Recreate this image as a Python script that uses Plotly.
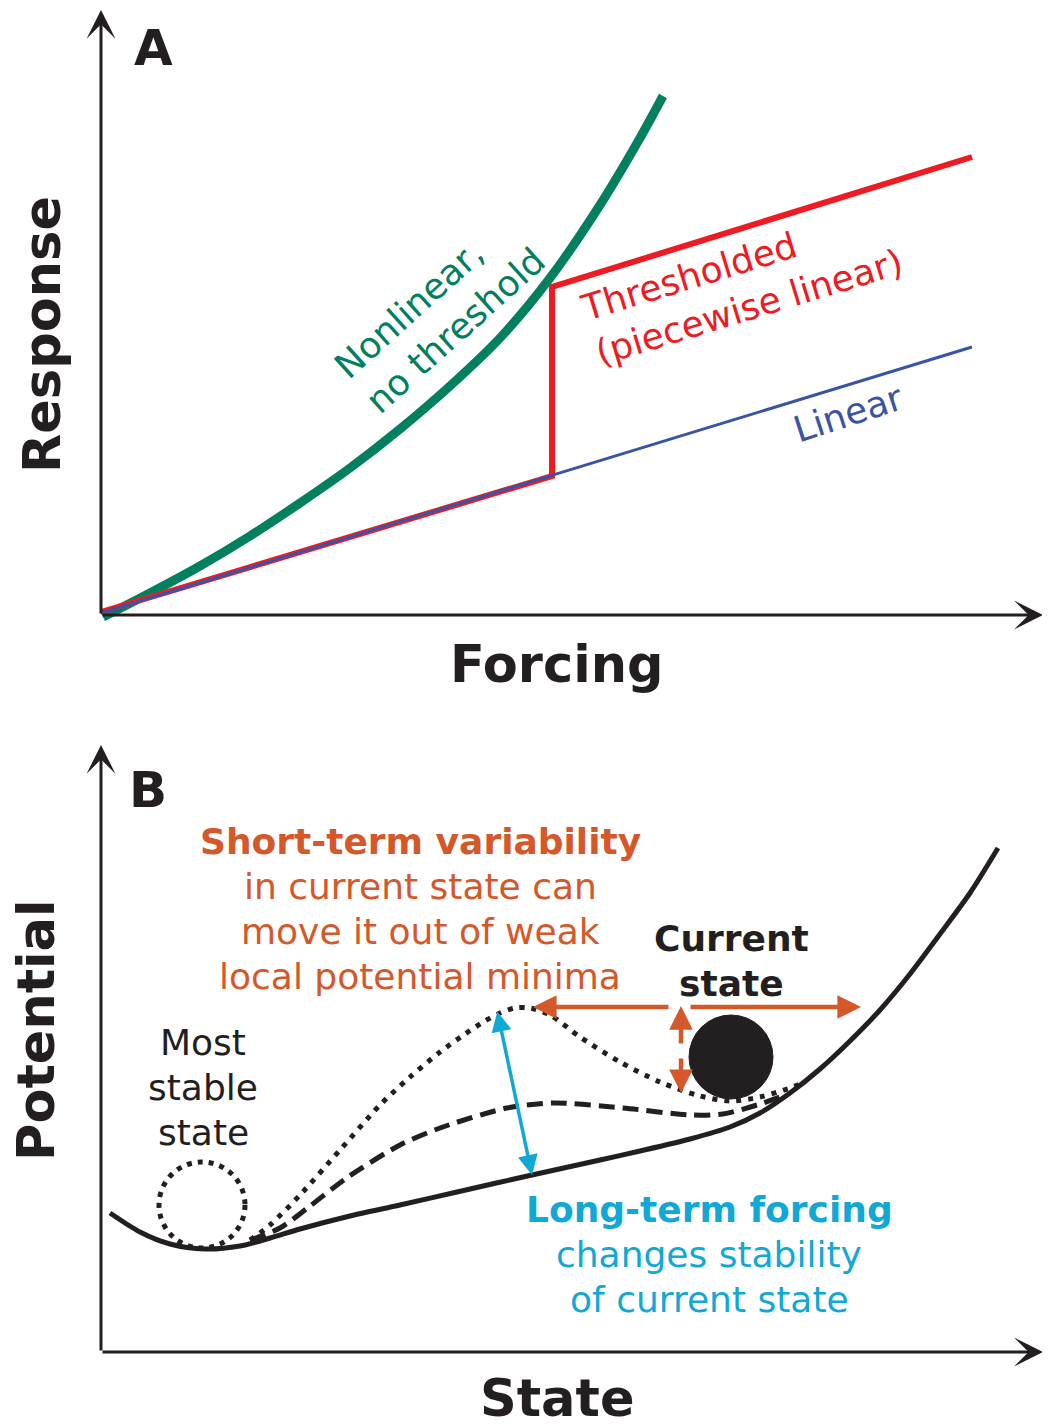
import plotly.graph_objects as go

# ---------------- Panel A data (forcing / response units) ----------------
nonlinear_x = [0.02, 0.49, 0.99, 1.49, 1.99, 2.49, 2.99, 3.49, 3.99, 4.49, 4.99, 5.39, 5.62]
nonlinear_y = [-0.02, 0.22, 0.49, 0.79, 1.12, 1.47, 1.86, 2.29, 2.77, 3.37, 4.10, 4.77, 5.19]
linear_x = [0.0, 8.71]
linear_y = [0.02, 2.68]
threshold_x = [0.0, 4.51, 4.51, 8.71]
threshold_y = [0.03, 1.39, 3.28, 4.58]

# ---------------- Panel B data (state / potential units) ----------------
solid_x = [0.09, 0.39, 0.69, 1.04, 1.39, 1.69, 1.99, 2.49, 2.99, 3.56, 4.31, 4.99, 5.39,
           5.89, 6.29, 6.59, 6.89, 7.19, 7.49, 7.79, 8.09, 8.39, 8.69, 8.97]
solid_y = [1.39, 1.20, 1.08, 1.03, 1.06, 1.14, 1.23, 1.36, 1.47, 1.60, 1.77, 1.92, 2.01,
           2.13, 2.25, 2.39, 2.59, 2.83, 3.11, 3.42, 3.78, 4.18, 4.59, 5.04]
dashed_x = [1.49, 1.79, 2.09, 2.47, 2.99, 3.39, 4.06, 4.52, 5.22, 5.89, 6.22, 6.56, 6.84]
dashed_y = [1.12, 1.24, 1.46, 1.75, 2.07, 2.24, 2.44, 2.49, 2.44, 2.37, 2.38, 2.47, 2.57]
dotted_x = [1.49, 1.69, 1.99, 2.39, 2.79, 3.09, 3.39, 3.64, 3.84, 3.99, 4.14, 4.29, 4.49,
            4.79, 5.19, 5.59, 5.99, 6.29, 6.59, 6.89, 6.99]
dotted_y = [1.12, 1.27, 1.57, 2.02, 2.47, 2.75, 3.00, 3.18, 3.31, 3.39, 3.44, 3.44, 3.37,
            3.15, 2.90, 2.70, 2.56, 2.51, 2.55, 2.64, 2.68]

stable_state = [1.01, 1.47, 0.43]    # centre x, centre y, radius
current_state = [6.30, 2.95, 0.42]   # centre x, centre y, radius

# arrows: [x_tail, y_tail, x_head, y_head]
var_left = [5.69, 3.45, 4.32, 3.45]
var_right = [5.88, 3.45, 7.60, 3.45]
var_up = [5.80, 3.07, 5.80, 3.46]
var_down = [5.80, 2.95, 5.80, 2.59]
forcing_arrow = [3.96, 3.42, 4.31, 1.77]
axis_len_x = 9.42
axis_len_yA = 6.05
axis_len_yB = 6.07

BLACK = "#231f20"
GREEN = "#00805f"
RED = "#ed1c24"
BLUE_L = "#3a53a4"
ORANGE = "#d4582a"
CYAN = "#12a8d6"
FONT = "DejaVu Sans"

fig = go.Figure()

def line(x, y, color, width, xa, ya, dash="solid", shape="spline"):
    fig.add_trace(go.Scatter(x=x, y=y, mode="lines", xaxis=xa, yaxis=ya,
                             line=dict(color=color, width=width, dash=dash, shape=shape,
                                       smoothing=0.8),
                             hoverinfo="skip", showlegend=False))

# Panel A
line(nonlinear_x, nonlinear_y, GREEN, 9, "x", "y")
line(threshold_x, threshold_y, RED, 6, "x", "y", shape="linear")
line(linear_x, linear_y, BLUE_L, 3, "x", "y", shape="linear")

# Panel B
line(solid_x, solid_y, BLACK, 5, "x2", "y2")
line(dashed_x, dashed_y, BLACK, 5, "x2", "y2", dash="16px,8px")
line(dotted_x, dotted_y, BLACK, 5, "x2", "y2", dash="5px,7px")

shapes = []
cx, cy, r = stable_state
shapes.append(dict(type="circle", xref="x2", yref="y2", x0=cx - r, x1=cx + r, y0=cy - r, y1=cy + r,
                   line=dict(color=BLACK, width=5, dash="5px,6px")))
cx, cy, r = current_state
shapes.append(dict(type="circle", xref="x2", yref="y2", x0=cx - r, x1=cx + r, y0=cy - r, y1=cy + r,
                   line=dict(color=BLACK, width=1), fillcolor=BLACK))

annotations = []

def arrow(a, xr, yr, color, width, head, size, both=False):
    annotations.append(dict(x=a[2], y=a[3], ax=a[0], ay=a[1], xref=xr, yref=yr, axref=xr, ayref=yr,
                            text="", showarrow=True, arrowhead=head, startarrowhead=head,
                            arrowsize=size, startarrowsize=size, arrowwidth=width,
                            arrowcolor=color, standoff=0, startstandoff=0,
                            arrowside="end+start" if both else "end"))

# axes
arrow([0, 0, axis_len_x, 0], "x", "y", BLACK, 3, 3, 1.6)
arrow([0, 0, 0, axis_len_yA], "x", "y", BLACK, 3, 3, 1.6)
arrow([0, 0, axis_len_x, 0], "x2", "y2", BLACK, 3, 3, 1.6)
arrow([0, 0, 0, axis_len_yB], "x2", "y2", BLACK, 3, 3, 1.6)

# variability / forcing arrows
arrow(var_left, "x2", "y2", ORANGE, 4.5, 2, 1.05)
arrow(var_right, "x2", "y2", ORANGE, 4.5, 2, 1.05)
arrow(var_up, "x2", "y2", ORANGE, 4.5, 2, 1.05)
arrow(var_down, "x2", "y2", ORANGE, 4.5, 2, 1.05)
arrow(forcing_arrow, "x2", "y2", CYAN, 3.5, 2, 1.15, both=True)

def text(t, x, y, xr, yr, color=BLACK, size=36, angle=0, align="center"):
    annotations.append(dict(text=t, x=x, y=y, xref=xr, yref=yr, showarrow=False,
                            xanchor="center", yanchor="middle", textangle=angle, align=align,
                            font=dict(family=FONT, size=size, color=color)))

# Panel A texts
text("<b>A</b>", 0.52, 5.67, "x", "y", size=50)
text("<b>Response</b>", -0.59, 2.80, "x", "y", size=51, angle=-90)
text("<b>Forcing</b>", 4.56, -0.49, "x", "y", size=51)
text("Nonlinear,<br>no threshold", 3.39, 3.02, "x", "y", color=GREEN, angle=-42, align="left")
text("Thresholded<br>(piecewise linear)", 6.41, 3.30, "x", "y", color=RED, angle=-17, align="left")
text("Linear", 7.47, 2.02, "x", "y", color=BLUE_L, angle=-18)

# Panel B texts
text("<b>B</b>", 0.47, 5.62, "x2", "y2", size=50)
text("<b>Potential</b>", -0.65, 3.21, "x2", "y2", size=51, angle=-90)
text("<b>State</b>", 4.56, -0.46, "x2", "y2", size=51)
text("<b>Short-term variability</b>", 3.19, 5.11, "x2", "y2", color=ORANGE)
text("in current state can", 3.19, 4.66, "x2", "y2", color=ORANGE)
text("move it out of weak", 3.19, 4.21, "x2", "y2", color=ORANGE)
text("local potential minima", 3.19, 3.76, "x2", "y2", color=ORANGE)
text("<b>Current</b>", 6.30, 4.14, "x2", "y2")
text("<b>state</b>", 6.30, 3.69, "x2", "y2")
text("Most", 1.02, 3.10, "x2", "y2")
text("stable", 1.02, 2.65, "x2", "y2")
text("state", 1.02, 2.20, "x2", "y2")
text("<b>Long-term forcing</b>", 6.08, 1.43, "x2", "y2", color=CYAN)
text("changes stability", 6.08, 0.98, "x2", "y2", color=CYAN)
text("of current state", 6.08, 0.53, "x2", "y2", color=CYAN)

# The page body has an 8px default margin; the figure is sized so it ends at the window edge.
W, H = 1042, 1410
split = 1 - 697 / H
ax_common = dict(visible=False, showgrid=False, zeroline=False, fixedrange=True)
fig.update_layout(
    width=W, height=H, autosize=False,
    margin=dict(l=0, r=0, t=0, b=0, pad=0),
    paper_bgcolor="white", plot_bgcolor="white",
    xaxis=dict(domain=[0, 1], range=[-0.93, 9.49], anchor="y", **ax_common),
    yaxis=dict(domain=[split, 1], range=[-0.90, 6.07], anchor="x", **ax_common),
    xaxis2=dict(domain=[0, 1], range=[-0.93, 9.49], anchor="y2", **ax_common),
    yaxis2=dict(domain=[0, split], range=[-0.66, 6.47], anchor="x2", **ax_common),
    shapes=shapes, annotations=annotations,
    font=dict(family=FONT, color=BLACK),
)

fig.write_html("out.html")
